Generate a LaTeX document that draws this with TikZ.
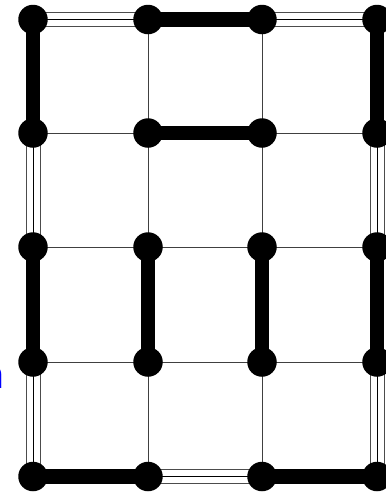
\documentclass[tikz,border=0pt]{standalone}
\begin{document}
\begin{tikzpicture}[x=1pt,y=-1pt,
  dot/.style={circle,fill=black,inner sep=0pt,minimum size=29.5pt},
  thinedge/.style={line width=0.8pt,black!75},
  thickedge/.style={line width=14.5pt,black},
  tripA/.style={line width=15pt,black!70},
  tripB/.style={line width=13pt,white},
  tripC/.style={line width=0.9pt,black}]
\useasboundingbox (0,0) rectangle (386,496);
% grid nodes
\foreach \c/\xx in {0/33,1/148,2/262,3/377}{
  \foreach \r/\yy in {0/19.5,1/133,2/247,3/362,4/476.5}{
    \coordinate (p\c\r) at (\xx,\yy);
  }
}
% thin edges
\foreach \a/\b in {p01/p11,p21/p31,p02/p12,p12/p22,p22/p32,p03/p13,p13/p23,p23/p33,
                   p10/p11,p11/p12,p13/p14,p20/p21,p21/p22,p23/p24}{
  \draw[thinedge] (\a) -- (\b);
}
% triple edges
\foreach \a/\b in {p00/p10,p20/p30,p14/p24,p01/p02,p03/p04,p31/p32,p33/p34}{
  \draw[tripA] (\a) -- (\b);
  \draw[tripB] (\a) -- (\b);
  \draw[tripC] (\a) -- (\b);
}
% thick edges
\foreach \a/\b in {p10/p20,p11/p21,p04/p14,p24/p34,p00/p01,p02/p03,p12/p13,p22/p23,p30/p31,p32/p33}{
  \draw[thickedge] (\a) -- (\b);
}
% dots
\foreach \c in {0,1,2,3}{
  \foreach \r in {0,1,2,3,4}{
    \node[dot] (n\c\r) at (p\c\r) {};
  }
}
% clipped blue label
\node[anchor=base east,inner sep=0pt,text=blue,font=\sffamily\fontsize{47}{50}\selectfont] (lbl) at (5.5,388) {n};
\end{tikzpicture}
\end{document}
